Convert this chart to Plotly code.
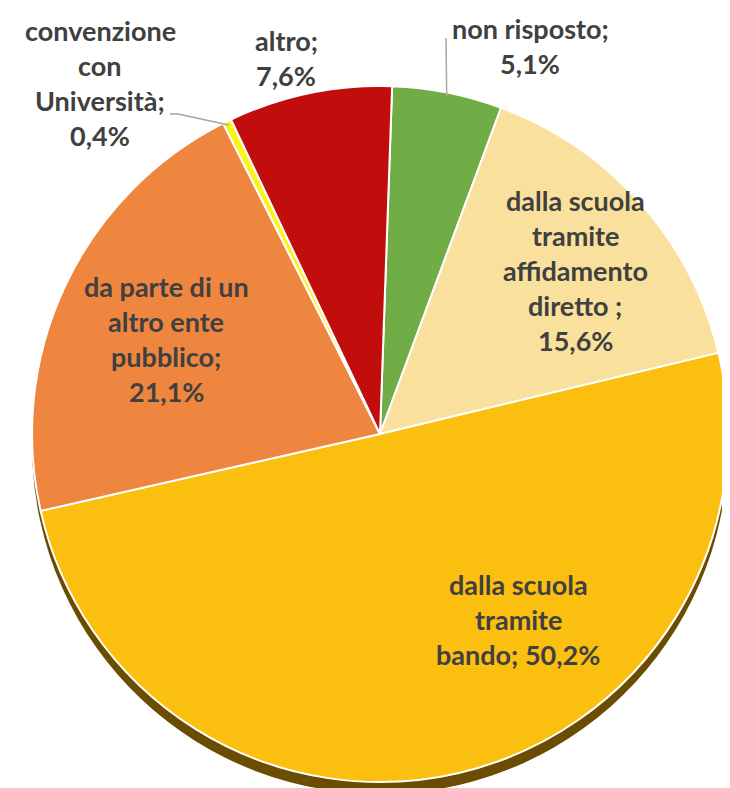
import math
import plotly.graph_objects as go

# ---------------- data ----------------
categories = [
    "non risposto",
    "dalla scuola tramite affidamento diretto",
    "dalla scuola tramite bando",
    "da parte di un altro ente pubblico",
    "convenzione con Università",
    "altro",
]
values = [5.1, 15.6, 50.2, 21.1, 0.4, 7.6]
label_lines = [
    ["non risposto;", "{v}"],
    ["dalla scuola", "tramite", "affidamento", "diretto ;", "{v}"],
    ["dalla scuola", "tramite", "bando; {v}"],
    ["da parte di un", "altro ente", "pubblico;", "{v}"],
    ["convenzione", "con", "Università;", "{v}"],
    ["altro;", "{v}"],
]

# ---------------- style / layout ----------------
W, H = 730, 788
colors = ["#70AD47", "#F9E09C", "#FBBF10", "#EE8640", "#FFF21A", "#C20D0D"]
shadow_color = "#6A4D00"
CX, CY, R = 372, 426, 348      # pie centre/radius in pixels
ROT = 2                         # start angle (deg, clockwise from 12 o'clock)
SHADOW = 12                     # 3D edge depth in px
label_pos = [(522, 38), (567, 262), (510, 611), (158, 331), (92, 75), (278, 50)]
LINE_H = 35
FONT = dict(family="Lato, 'Open Sans', sans-serif", size=27, color="#404040")


def px(x):
    return x / W


def py(y):
    return min(1.0, max(0.0, 1 - y / H))


def fmt(v):
    return f"{v:.1f}".replace(".", ",") + "%"


fig = go.Figure()

# 3D edge (shadow pie)
fig.add_trace(go.Pie(
    labels=categories, values=values, sort=False, direction="clockwise",
    rotation=ROT, textinfo="none", hoverinfo="skip",
    marker=dict(colors=[shadow_color] * len(values), line=dict(width=0)),
    domain=dict(x=[px(CX - R), px(CX + R)],
                y=[py(CY + R + SHADOW), py(CY - R + SHADOW)]),
    showlegend=False,
))

# main pie
fig.add_trace(go.Pie(
    labels=categories, values=values, sort=False, direction="clockwise",
    rotation=ROT, textinfo="none",
    marker=dict(colors=colors, line=dict(color="white", width=2)),
    domain=dict(x=[px(CX - R), px(CX + R)],
                y=[py(CY + R), py(CY - R)]),
    showlegend=False,
))

# labels (one annotation per line to reproduce the line spacing)
annotations = []
for lines, v, (lx, ly) in zip(label_lines, values, label_pos):
    n = len(lines)
    for i, line in enumerate(lines):
        annotations.append(dict(
            x=lx / W, y=1 - ly / H, xref="paper", yref="paper",
            text="<b>" + line.replace("{v}", fmt(v)) + "</b>",
            showarrow=False, xanchor="center", yanchor="middle",
            yshift=-(i - (n - 1) / 2) * LINE_H, font=FONT,
        ))

# leader lines for the small outside labels, ending at slice mid-angle
total = sum(values)
cum = 0
mid_angles = []
for v in values:
    mid_angles.append(ROT + 360 * (cum + v / 2) / total)
    cum += v


def edge_point(idx, r):
    a = math.radians(mid_angles[idx])
    return CX + r * math.sin(a), CY - r * math.cos(a)


shapes = []
leader_starts = {0: (438, 30), 4: (162, 106)}
for idx, (sx, sy) in leader_starts.items():
    ex, ey = edge_point(idx, R - 4)
    if idx == 4:
        mx, my = sx + 8, sy  # short horizontal segment then diagonal
        shapes.append(dict(type="line", xref="paper", yref="paper",
                           x0=px(sx), y0=py(sy), x1=px(mx), y1=py(my),
                           line=dict(color="#A6A6A6", width=1.5)))
        sx, sy = mx, my
    shapes.append(dict(type="line", xref="paper", yref="paper",
                       x0=px(sx), y0=py(sy), x1=px(ex), y1=py(ey),
                       line=dict(color="#A6A6A6", width=1.5)))

fig.update_layout(
    width=W, height=H,
    margin=dict(l=0, r=0, t=0, b=0),
    paper_bgcolor="white", plot_bgcolor="white",
    annotations=annotations, shapes=shapes,
    showlegend=False,
)

fig.write_html("out.html")
